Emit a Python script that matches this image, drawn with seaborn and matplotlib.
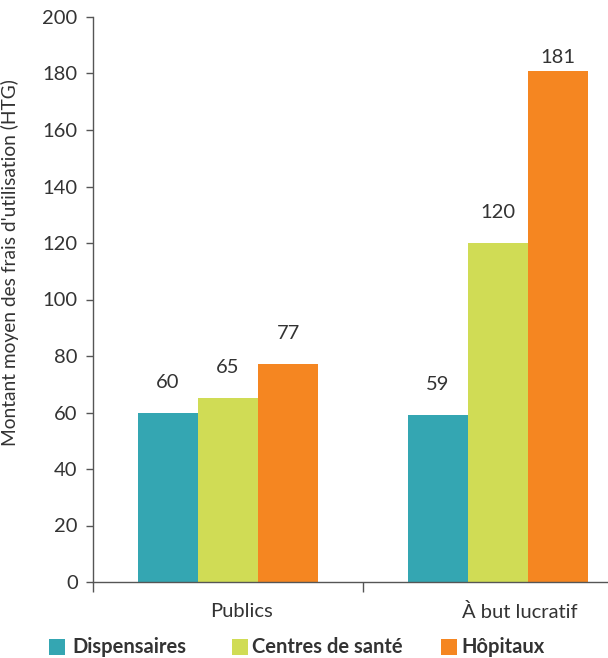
import matplotlib
matplotlib.use("Agg")
import matplotlib.pyplot as plt
from matplotlib.patches import Rectangle
from matplotlib.transforms import ScaledTranslation
import seaborn as sns
import pandas as pd

sectors = ["Publics", "À but lucratif"]
facility_types = ["Dispensaires", "Centres de santé", "Hôpitaux"]
dispensaires = [60, 59]
centres_sante = [65, 120]
hopitaux = [77, 181]
y_ticks = [0, 20, 40, 60, 80, 100, 120, 140, 160, 180, 200]

colors = ["#34A6B2", "#D0DC55", "#F58621"]

df = pd.DataFrame({
    "secteur": sectors * 3,
    "type": [facility_types[0]] * 2 + [facility_types[1]] * 2 + [facility_types[2]] * 2,
    "montant": dispensaires + centres_sante + hopitaux,
})

sns.set_style("white")
plt.rcParams["font.family"] = ["Lato", "DejaVu Sans"]
text_color = "#333333"
axis_color = "#555555"

W, H = 608, 658
fig = plt.figure(figsize=(W / 100, H / 100), dpi=100)
ax = fig.add_axes([93 / W, 76 / H, 540 / W, 565 / H])

sns.barplot(data=df, x="secteur", y="montant", hue="type", order=sectors,
            hue_order=facility_types, palette=colors, width=0.667,
            saturation=1, ax=ax, legend=False, linewidth=0)

ax.set_xlim(-0.5, 1.5)
ax.set_ylim(0, 200)

# value labels sit above each bar, pulled down when they would pass the label ceiling
label_ceiling = 183.7
px_per_unit = 565 / 200
for container in ax.containers:
    for bar in container:
        h = bar.get_height()
        gap_px = min(25, (label_ceiling - h) * px_per_unit)
        ax.annotate(f"{h:.0f}", (bar.get_x() + bar.get_width() / 2, h),
                    xytext=(0, gap_px * 0.72), textcoords="offset points",
                    ha="center", va="baseline", fontsize=14.5, color=text_color)

ax.set_yticks(y_ticks)
ax.set_yticklabels([str(t) for t in y_ticks], fontsize=14.5, color=text_color)

ax.set_xticks([0, 1])
ax.set_xticklabels(sectors, fontsize=14.5, color=text_color)
ax.tick_params(axis="x", which="major", bottom=True, length=0, pad=15)
ax.set_xticks([-0.5, 0.5], minor=True)
ax.tick_params(axis="x", which="minor", bottom=True, length=7, width=1,
               color=axis_color, direction="out")
ax.tick_params(axis="y", left=True, length=5, width=1, color=axis_color,
               direction="out", pad=6)

# category labels sit a little to the right of their group centres
for lbl, dx in zip(ax.get_xticklabels(), [13, 22]):
    lbl.set_transform(lbl.get_transform() + ScaledTranslation(dx / 100, 0, fig.dpi_scale_trans))

for side in ["top", "right"]:
    ax.spines[side].set_visible(False)
for side in ["left", "bottom"]:
    ax.spines[side].set_color(axis_color)
    ax.spines[side].set_linewidth(1)

ax.set_xlabel("")
ax.set_ylabel("Montant moyen des frais d'utilisation (HTG)", fontsize=13.8, color=text_color)
ax.yaxis.set_label_coords(-0.137, 0.566)

# Legend drawn as coloured squares with bold labels along the bottom edge
legend_square_x = [49, 232, 441]
legend_text_x = [72, 252, 461]
legend_y = 647
sq = 16
for c, label, sx, tx in zip(colors, facility_types, legend_square_x, legend_text_x):
    fig.patches.append(Rectangle((sx / W, 1 - (legend_y + sq / 2) / H), sq / W, sq / H,
                                 transform=fig.transFigure, facecolor=c, edgecolor="none"))
    fig.text(tx / W, 1 - legend_y / H, label, ha="left", va="center",
             fontsize=14.5, fontweight="bold", color=text_color)

fig.savefig("out.png", dpi=100)
